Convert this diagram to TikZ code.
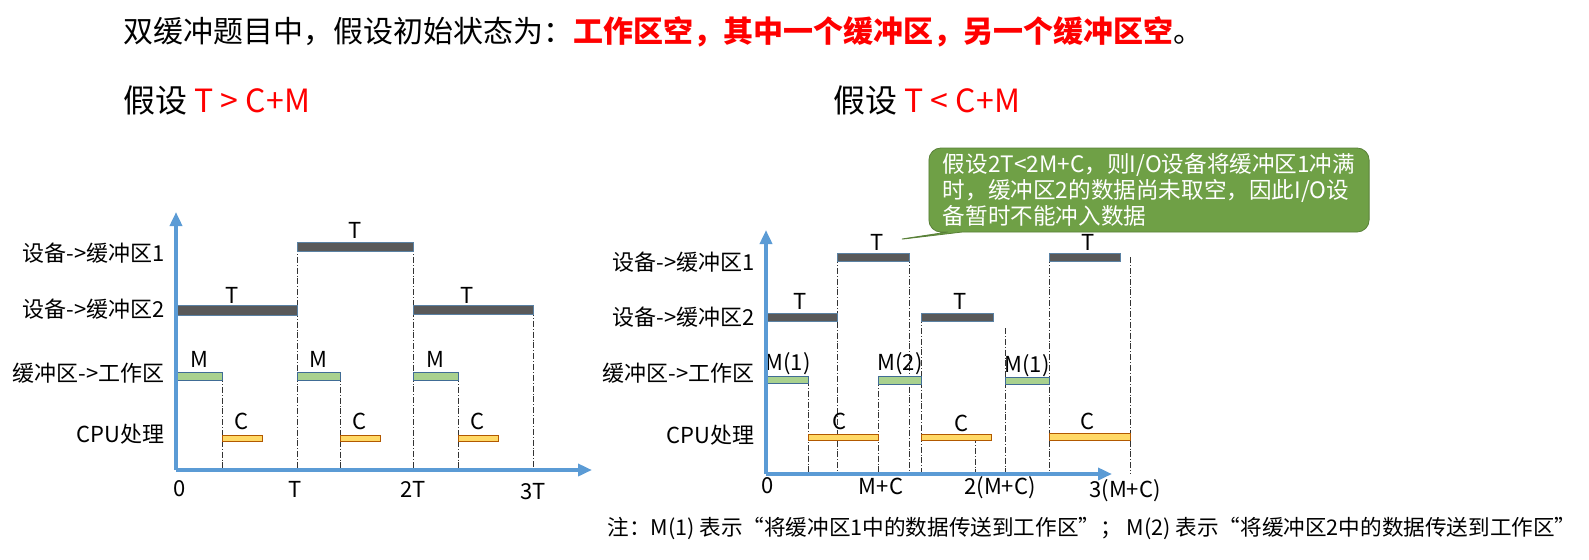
\documentclass[tikz,border=0pt]{standalone}
\usepackage{fontspec}
\setmainfont{Noto Sans CJK SC}
\usetikzlibrary{arrows.meta,shapes.callouts}
\definecolor{axisb}{HTML}{5B9BD5}
\definecolor{barg}{HTML}{595959}
\definecolor{barm}{HTML}{A9D18E}
\definecolor{barc}{HTML}{FFD966}
\definecolor{callg}{HTML}{6FA046}
\begin{document}
\begin{tikzpicture}[x=0.5pt,y=-0.5pt,
  axis/.style={draw=axisb,line width=2pt,-{Triangle[length=7pt,width=6pt]}},
  gbar/.style={fill=barg,draw=axisb!60!barg,line width=0.3pt},
  mbar/.style={fill=barm,draw=axisb!70!black,line width=0.4pt},
  cbar/.style={fill=barc,draw=orange!70!black,line width=0.4pt},
  dsh/.style={densely dashdotted,line width=0.4pt,black!80},
  lab/.style={font=\fontsize{11}{12}\selectfont,inner sep=0pt},
  rowl/.style={font=\fontsize{11}{12}\selectfont,inner sep=0pt,anchor=east},
  big/.style={font=\fontsize{15}{17}\selectfont,inner sep=0pt,anchor=west}]
\useasboundingbox (0,0) rectangle (1589,559);
% titles
\node[big] (title) at (123,32) {双缓冲题目中，假设初始状态为：\textcolor{red}{\textbf{工作区空，其中一个缓冲区，另一个缓冲区空}}。};
\node[big,font=\fontsize{16}{18}\selectfont] (s1) at (123,100) {假设 \textcolor{red}{T > C+M}};
\node[big,font=\fontsize{16}{18}\selectfont] (s2) at (833,100) {假设 \textcolor{red}{T < C+M}};
% ===== left chart =====
\coordinate (lo) at (176,470);
\coordinate (lyt) at (176,212);
\coordinate (lxt) at (592,470);
\node[rowl] (l1) at (165,253) {设备->缓冲区1};
\node[rowl] (l2) at (165,309) {设备->缓冲区2};
\node[rowl] (l3) at (165,373) {缓冲区->工作区};
\node[rowl] (l4) at (165,434) {CPU处理};
\foreach \x/\t in {222/376,297/246,340/376,413/246,458/376,533/310}{\draw[dsh] (\x,\t) -- (\x,470);}
\draw[gbar] (297,242) rectangle (413,251);
\draw[gbar] (176,305) rectangle (297,315);
\draw[gbar] (413,305) rectangle (533,314);
\foreach \a/\b in {176/222,297/340,413/458}{\draw[mbar] (\a,372) rectangle (\b,380);\node[lab] at ({(\a+\b)/2},359) {M};}
\foreach \a/\b in {222/262,340/380,458/498}{\draw[cbar] (\a,435) rectangle (\b,441);\node[lab] at ({(\a+\b)/2},421) {C};}
\node[lab] at (355,230) {T};
\node[lab] at (232,295) {T};
\node[lab] at (467,295) {T};
\draw[axis] (lo) -- (lyt);
\draw[axis] (lo) -- (lxt);
\node[lab] (t0) at (180,489) {0};
\node[lab] (t1) at (295,489) {T};
\node[lab] (t2) at (413,489) {2T};
\node[lab] (t3) at (533,492) {3T};
% ===== right chart =====
\coordinate (ro) at (766,474);
\coordinate (ryt) at (766,230);
\coordinate (rxt) at (1112,474);
\node[rowl] (r1) at (755,262) {设备->缓冲区1};
\node[rowl] (r2) at (755,317) {设备->缓冲区2};
\node[rowl] (r3) at (755,373) {缓冲区->工作区};
\node[rowl] (r4) at (755,435) {CPU处理};
\foreach \x/\t in {808/380,837/257,878/380,909/257,921/317,975/437,1005/328,1049/257,1130/257}{\draw[dsh] (\x,\t) -- (\x,474);}
\draw[gbar] (837,253) rectangle (909,261);
\draw[gbar] (1049,253) rectangle (1120,261);
\draw[gbar] (766,313) rectangle (837,321);
\draw[gbar] (921,313) rectangle (993,321);
\node[lab] at (877,242) {T};
\node[lab] at (1088,242) {T};
\node[lab] at (800,301) {T};
\node[lab] at (960,301) {T};
\draw[mbar] (766,376) rectangle (808,383); \node[lab] at (788,364) {M(1)};
\draw[mbar] (878,376) rectangle (921,384); \node[lab] at (900,364) {M(2)};
\draw[mbar] (1005,377) rectangle (1049,384); \node[lab] at (1027,366) {M(1)};
\draw[cbar] (808,434) rectangle (878,440); \node[lab] at (840,421) {C};
\draw[cbar] (921,434) rectangle (991,440); \node[lab] at (962,423) {C};
\draw[cbar] (1049,433) rectangle (1130,440); \node[lab] at (1088,421) {C};
\draw[axis] (ro) -- (ryt);
\draw[axis] (ro) -- (rxt);
\node[lab] (u0) at (768,486) {0};
\node[lab] (u1) at (881,486) {M+C};
\node[lab] (u2) at (1000,488) {2(M+C)};
\node[lab] (u3) at (1125,491) {3(M+C)};
% callout
\node[rectangle callout,rounded corners=6pt,fill=callg,draw=callg!80!black,line width=0.4pt,
  minimum width=212pt,minimum height=42pt,align=left,inner xsep=7pt,inner ysep=1pt,
  text=white,font=\fontsize{11.3}{13}\selectfont,
  callout absolute pointer={(895,240)}] (call) at (1149,190)
  {假设2T<2M+C，则I/O设备将缓冲区1冲满\\时，缓冲区2的数据尚未取空，因此I/O设\\备暂时不能冲入数据};
% footnote
\node[inner sep=0pt,anchor=west,font=\fontsize{10.8}{12}\selectfont] (note) at (607,528)
  {注：M(1) 表示“将缓冲区1中的数据传送到工作区”； M(2) 表示“将缓冲区2中的数据传送到工作区”};
\end{tikzpicture}
\end{document}
